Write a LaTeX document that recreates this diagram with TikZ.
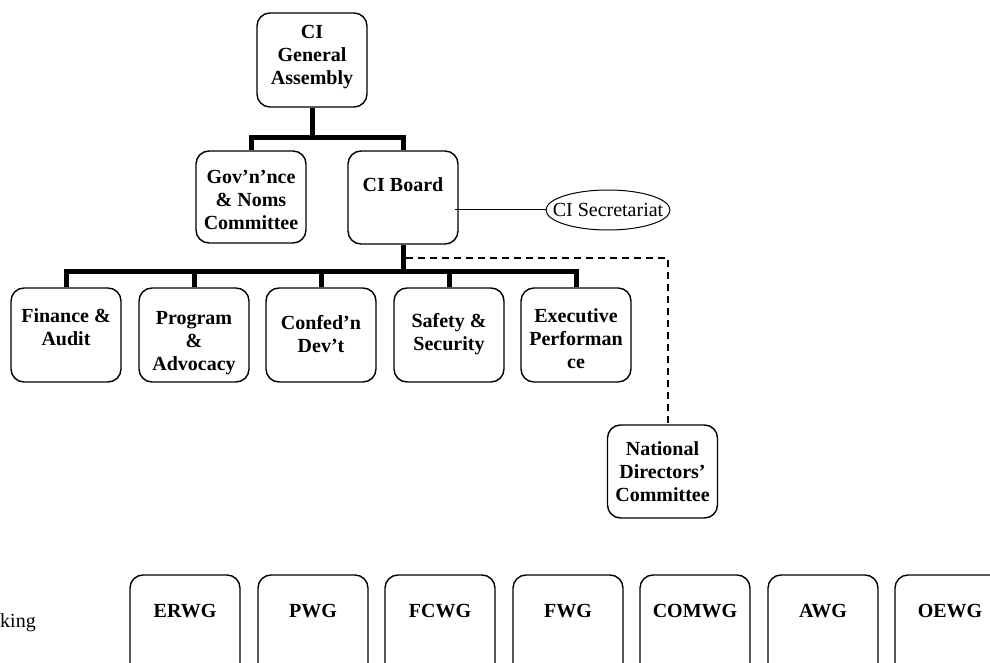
\documentclass[tikz,border=0pt]{standalone}
\usepackage{fontspec}
\setmainfont{Liberation Serif}
\usetikzlibrary{shapes.geometric}
\newcommand{\bxt}[3]{\parbox[c][#1][t]{104pt}{\centering\rule{0pt}{#2}#3}}
\tikzset{
  orgbox/.style={draw, rounded corners=13pt, line width=1.4pt, inner sep=0pt,
    minimum width=110pt, font=\fontsize{20}{23}\selectfont\bfseries},
  trunk/.style={line width=5pt},
  dashline/.style={line width=1.2pt, dash pattern=on 7pt off 5pt},
  thinline/.style={line width=1pt},
  plaintext/.style={inner sep=0pt, font=\fontsize{20}{23}\selectfont},
}
\begin{document}
\begin{tikzpicture}[x=1pt,y=-1pt]
\clip (0,0) rectangle (990,663);
\fill[white] (0,0) rectangle (990,663);

% top level
\node[orgbox] (ga) at (312,60) {\bxt{94pt}{26pt}{CI\\General\\Assembly}};
\node[orgbox] (gov) at (251,197) {\bxt{92pt}{33pt}{Gov'n'nce\\\& Noms\\Committee}};
\node[orgbox] (board) at (403,197.5) {\bxt{93pt}{41pt}{CI Board}};
\node[draw, thinline, ellipse, minimum width=124pt, minimum height=40pt, inner sep=0pt,
  label={[plaintext]center:CI Secretariat}] (sec) at (608,210) {};

% committees
\node[orgbox] (fin)  at (66,335)  {\bxt{94pt}{34pt}{Finance \&\\Audit}};
\node[orgbox] (prog) at (194,335) {\bxt{94pt}{36pt}{Program\\\&\\Advocacy}};
\node[orgbox] (conf) at (321,335) {\bxt{94pt}{41pt}{Confed'n\\Dev't}};
\node[orgbox] (safe) at (449,335) {\bxt{94pt}{39pt}{Safety \&\\Security}};
\node[orgbox] (exe)  at (576,335) {\bxt{94pt}{34pt}{Executive\\Performan\\ce}};

\node[orgbox] (nat) at (662.5,471.5) {\bxt{93pt}{30pt}{National\\Directors'\\Committee}};

% working groups
\foreach \nm/\xx/\tt in {erwg/185/ERWG, pwg/313/PWG, fcwg/440/FCWG, fwg/568/FWG,
  comwg/695/COMWG, awg/823/AWG, oewg/950/OEWG}
  \node[orgbox] (\nm) at (\xx,630) {\bxt{110pt}{42pt}{\tt}};

\node[plaintext, anchor=base west] (king) at (0,627) {king};

% connectors
\coordinate (gabar) at (312,138);
\draw[trunk] (ga.south) -- (gabar);
\draw[trunk] (gov.north) -- (gov.north |- gabar) -- (board.north |- gabar) -- (board.north);

\coordinate (sA) at (455,210);
\draw[thinline] (sA) -- (sec.west);

\coordinate (bbar) at (403,271);
\draw[trunk] (board.south) -- (bbar);
\draw[trunk] (fin.north) -- (fin.north |- bbar) -- (exe.north |- bbar) -- (exe.north);
\foreach \nm in {prog,conf,safe}
  \draw[trunk] (\nm.north) -- (\nm.north |- bbar);

\coordinate (dA) at (406,258);
\coordinate (dB) at (668,258);
\draw[dashline] (dA) -- (dB) -- (dB |- nat.north);
\end{tikzpicture}
\end{document}
